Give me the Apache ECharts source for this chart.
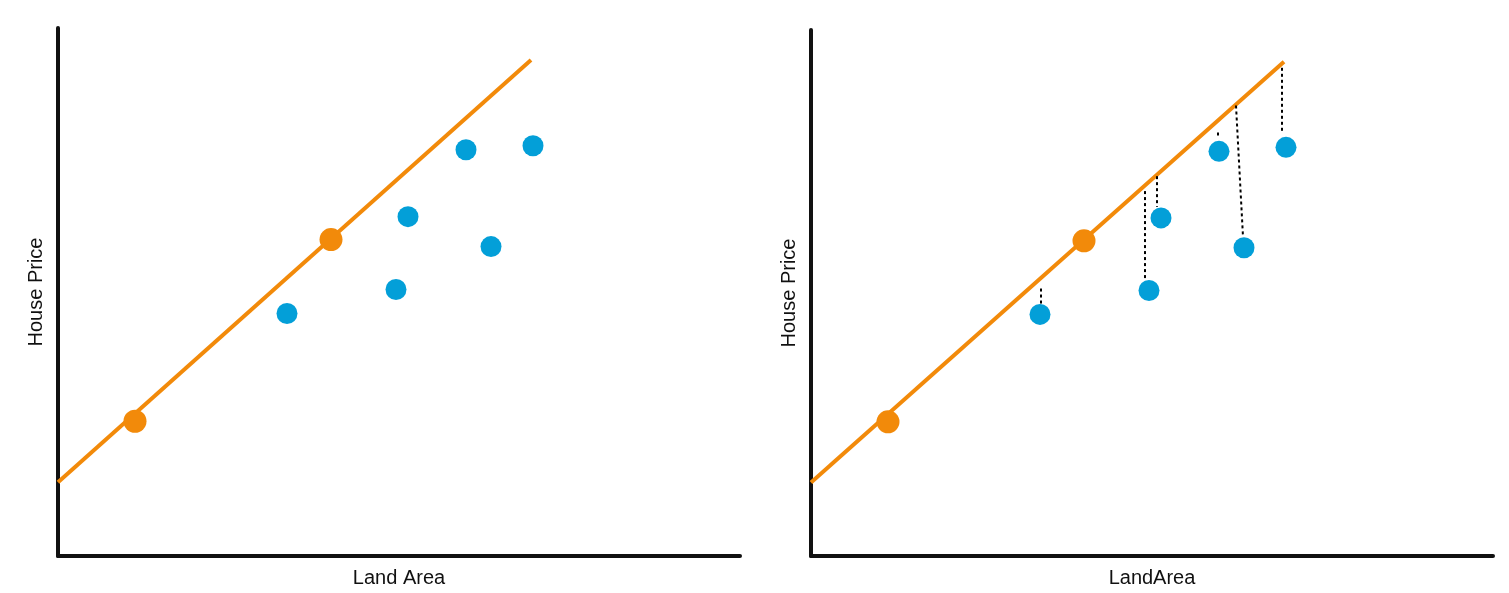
<!DOCTYPE html>
<html><head><meta charset="utf-8">
<script src="https://cdn.jsdelivr.net/npm/echarts@6/dist/echarts.min.js"></script>
<style>html,body{margin:0;background:#fff}#c{width:1509px;height:593px}</style>
</head><body><div id="c"></div>
<script>
const fitLine = [[0,74],[473,497]];
const fitPoints = [[77,135],[273,317]];
const bluePoints = [[229,243],[338,267],[350,340],[408,407],[433,310],[475,411]];
const residuals = [
  [[230,269],[230,253]],
  [[334,367],[334,277]],
  [[346,382],[346,351]],
  [[407,426],[407,423]],
  [[425,453],[432,321]],
  [[471,491],[471,427]]
];
const xNames = ['Land Area','LandArea'];
const yName = 'House Price';
const ORANGE = '#F28A0A', BLUE = '#039FD8';
const font = {fontFamily:'Liberation Sans, Arial', fontSize:20, color:'#111'};
const chart = echarts.init(document.getElementById('c'));
const grids = [{left:58,top:28,width:682,height:529},{left:811,top:30,width:682,height:529}];
const xAxis = [], yAxis = [], series = [];
[0,1].forEach(i=>{
  xAxis.push({gridIndex:i,type:'value',min:0,max:682,name:xNames[i],nameLocation:'middle',nameGap:12,
    nameTextStyle:font,axisLine:{show:true,lineStyle:{color:'#111',width:4}},axisTick:{show:false},
    axisLabel:{show:false},splitLine:{show:false}});
  yAxis.push({gridIndex:i,type:'value',min:0,max:529,name:yName,nameLocation:'middle',nameGap:12,
    nameTextStyle:font,axisLine:{show:true,lineStyle:{color:'#111',width:4}},axisTick:{show:false},
    axisLabel:{show:false},splitLine:{show:false}});
  series.push({type:'line',xAxisIndex:i,yAxisIndex:i,data:fitLine,symbol:'none',lineStyle:{color:ORANGE,width:4},z:2});
  series.push({type:'scatter',xAxisIndex:i,yAxisIndex:i,data:fitPoints,symbolSize:23,itemStyle:{color:ORANGE,opacity:1},z:4});
  series.push({type:'scatter',xAxisIndex:i,yAxisIndex:i,data:bluePoints,symbolSize:21,itemStyle:{color:BLUE,opacity:1},z:4});
});
residuals.forEach(r=>series.push({type:'line',xAxisIndex:1,yAxisIndex:1,data:r,symbol:'none',
  lineStyle:{color:'#000',width:2,type:[3,3]},z:3}));
chart.setOption({animation:false,grid:grids,xAxis,yAxis,series});
</script></body></html>
